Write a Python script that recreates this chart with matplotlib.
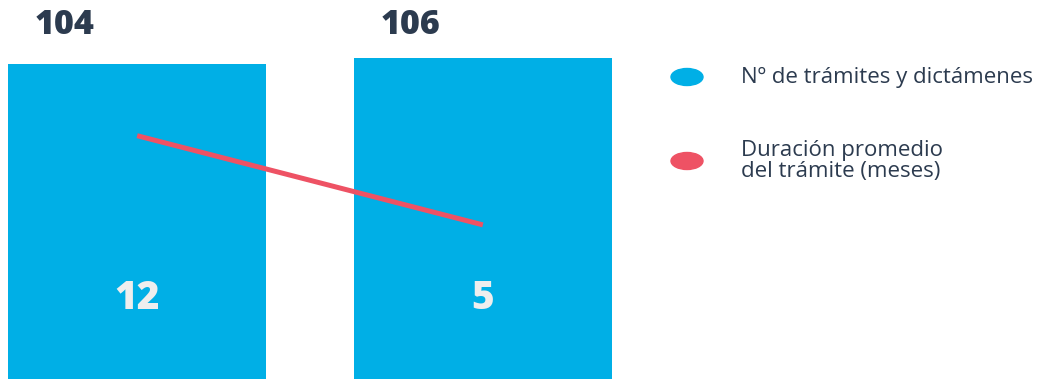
import matplotlib.pyplot as plt
from matplotlib.patches import Ellipse
from matplotlib.transforms import blended_transform_factory

# tramites y dictamenes por periodo, y duracion promedio (meses)
periodos = ['A', 'B']
tramites = [104, 106]
duracion = [12, 5]

azul = '#00AFE6'
rojo = '#EE5264'
texto = '#2C3B4F'

fig = plt.figure(figsize=(10.47, 3.79), dpi=100)
W, H = 1047, 379

# main axes in pixel box: left 8, right 612, top 58, bottom 379
ax = fig.add_axes([8 / W, 0, 604 / W, 321 / H])
x = range(len(periodos))
ax.bar(x, tramites, width=0.747, color=azul)
ax.set_xlim(-0.3735, 1.3735)
ax.set_ylim(0, max(tramites))
ax.axis('off')

tr = blended_transform_factory(ax.transData, ax.transAxes)
for i, v in enumerate(tramites):
  ax.text(i - 0.21, 1 + 33 / 321, str(v), transform=tr, ha='center', va='center',
          fontsize=24.5, fontweight='heavy', color=texto, family='Open Sans')

ax2 = ax.twinx()
ax2.plot(x, duracion, color=rojo, lw=3.6, solid_capstyle='butt')
ax2.set_ylim(-7.1, 18.1)
ax2.axis('off')
for i, v in enumerate(duracion):
  ax2.text(i, 0.252, str(v), transform=tr, ha='center', va='center',
           fontsize=28, fontweight='heavy', color='#EEEEEE', family='Open Sans')

# legend drawn by hand
items = [(azul, 'Nº de trámites y dictámenes', 77),
         (rojo, 'Duración promedio\ndel trámite (meses)', 161)]
for col, lab, py in items:
  fig.patches.append(Ellipse((687 / W, 1 - py / H), 32 / W, 17 / H,
                             transform=fig.transFigure, color=col))
  fig.text(741 / W, 1 - py / H, lab, ha='left', va='center', fontsize=16,
           color=texto, family='Open Sans', linespacing=1.05)

fig.savefig('out.png', dpi=100, facecolor='white')
